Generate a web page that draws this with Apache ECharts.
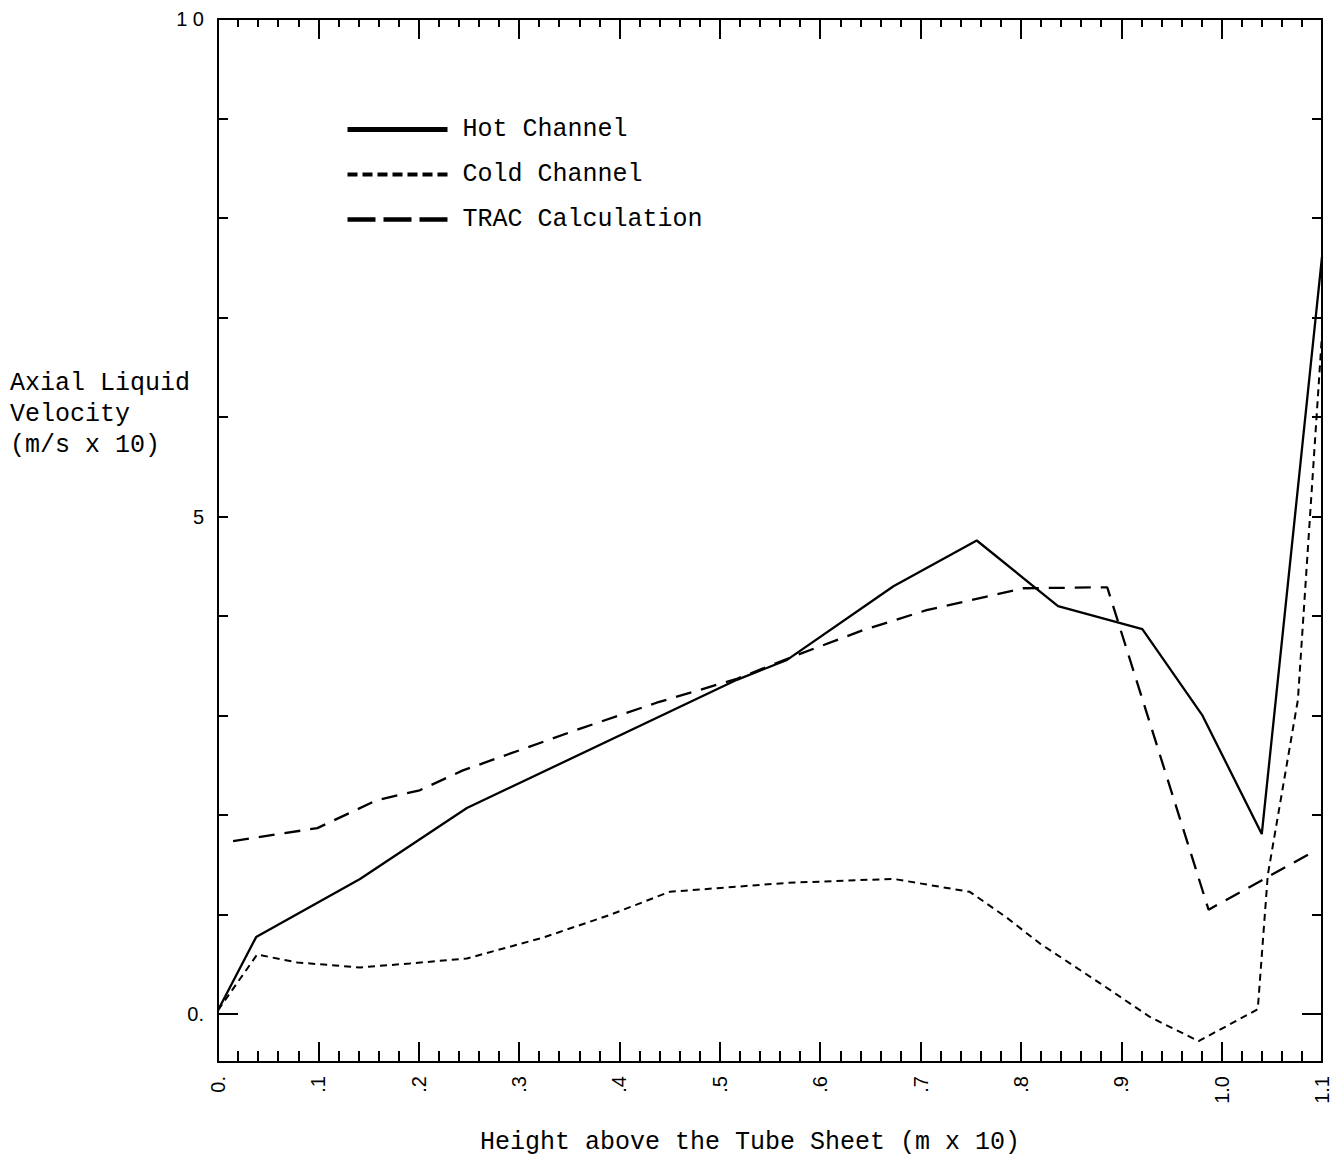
<!DOCTYPE html>
<html>
<head>
<meta charset="utf-8">
<title>Axial Liquid Velocity</title>
<script src="https://cdn.jsdelivr.net/npm/echarts@6.0.0/dist/echarts.min.js"></script>
<style>
  html, body { margin: 0; padding: 0; background: #fff; }
  #chart { width: 1339px; height: 1165px; }
</style>
</head>
<body>
<div id="chart"></div>
<script>
// ---- data (x: height above tube sheet, m x 10; y: axial liquid velocity, m/s x 10) ----
const hotX  = [0, 0.038, 0.1415, 0.248, 0.517, 0.567, 0.673, 0.756, 0.837, 0.921, 0.981, 1.040, 1.1];
const hotY  = [0.04, 0.775, 1.358, 2.072, 3.36, 3.56, 4.30, 4.76, 4.10, 3.87, 3.00, 1.81, 7.61];

const coldX = [0, 0.039, 0.079, 0.1415, 0.191, 0.248, 0.324, 0.391, 0.450, 0.567, 0.673, 0.749, 0.786, 0.819, 0.879, 0.929, 0.977, 1.036, 1.046, 1.076, 1.1];
const coldY = [0.04, 0.60, 0.52, 0.47, 0.51, 0.56, 0.77, 1.00, 1.23, 1.32, 1.36, 1.23, 0.97, 0.71, 0.31, -0.03, -0.27, 0.05, 1.40, 3.16, 6.83];

const tracX = [0.015, 0.099, 0.158, 0.201, 0.244, 0.361, 0.437, 0.517, 0.577, 0.643, 0.706, 0.802, 0.886, 0.987, 1.091];
const tracY = [1.74, 1.87, 2.15, 2.25, 2.45, 2.87, 3.13, 3.37, 3.61, 3.86, 4.06, 4.28, 4.29, 1.05, 1.63];

const seriesNames = ['Hot Channel', 'Cold Channel', 'TRAC Calculation'];
const xTickLabels = ['0.', '.1', '.2', '.3', '.4', '.5', '.6', '.7', '.8', '.9', '1.0', '1.1'];
const yTickValues = [1, 2, 3, 4, 5, 6, 7, 8, 9, 10];
const yLongTickValues = [0];
const yLabelValues = [0, 5, 10];
const yTickLabels = ['0.', '5', '1 0'];
const yTitle = 'Axial Liquid\nVelocity\n(m/s x 10)';
const xTitle = 'Height above the Tube Sheet (m x 10)';

function pairs(xs, ys) { return xs.map((x, i) => [x, ys[i]]); }

const MONO = '"Liberation Mono", "DejaVu Sans Mono", monospace';
const SANS = '"Liberation Sans", Arial, sans-serif';
const INK = '#000';

const chart = echarts.init(document.getElementById('chart'), null, { renderer: 'svg' });

const xBase = {
  type: 'value', min: 0, max: 1.1, interval: 0.1,
  splitLine: { show: false },
  minorSplitLine: { show: false }
};
const yBase = {
  type: 'value', min: -0.48, max: 10,
  splitLine: { show: false }
};
const boxLine = { show: true, onZero: false, lineStyle: { color: INK, width: 2 } };
const noLine = { show: false, onZero: false };
const hiddenSymbol = { opacity: 0, color: 'rgba(0,0,0,0)', borderWidth: 0 };

function yTickAxis(position, values, length) {
  return Object.assign({}, yBase, {
    position: position,
    axisLine: noLine,
    axisTick: { show: true, inside: true, length: length, customValues: values, lineStyle: { color: INK, width: 2 } },
    axisLabel: { show: false }
  });
}

const option = {
  animation: false,
  backgroundColor: '#fff',
  grid: { left: 218, right: 17, top: 19, bottom: 103, containLabel: false },
  legend: {
    orient: 'vertical',
    left: 345, top: 117, padding: 0,
    itemWidth: 100, itemHeight: 20, itemGap: 20,
    textStyle: { color: INK, fontFamily: MONO, fontSize: 25, padding: [0, 0, 0, 10] },
    data: [
      { name: seriesNames[0], itemStyle: hiddenSymbol, lineStyle: { width: 5, type: 'solid' } },
      { name: seriesNames[1], itemStyle: hiddenSymbol, lineStyle: { width: 4, type: [10, 5] } },
      { name: seriesNames[2], itemStyle: hiddenSymbol, lineStyle: { width: 4.5, type: [28, 8] } }
    ]
  },
  xAxis: [
    Object.assign({}, xBase, {
      position: 'bottom',
      axisLine: boxLine,
      axisTick: { show: true, inside: true, length: 20, lineStyle: { color: INK, width: 2 } },
      minorTick: { show: true, splitNumber: 5, length: 11, lineStyle: { color: INK, width: 2 } },
      axisLabel: {
        show: true, rotate: 90, margin: 14, color: INK, fontFamily: SANS, fontSize: 20,
        formatter: v => xTickLabels[Math.round(v * 10)] ?? ''
      }
    }),
    Object.assign({}, xBase, {
      position: 'top',
      axisLine: boxLine,
      axisTick: { show: true, inside: true, length: 20, lineStyle: { color: INK, width: 2 } },
      minorTick: { show: true, splitNumber: 5, length: 8, lineStyle: { color: INK, width: 2 } },
      axisLabel: { show: false }
    })
  ],
  yAxis: [
    Object.assign({}, yBase, {
      position: 'left',
      axisLine: boxLine,
      axisTick: { show: false },
      axisLabel: {
        show: true, margin: 14, color: INK, fontFamily: SANS, fontSize: 20,
        customValues: yLabelValues,
        formatter: v => yTickLabels[yLabelValues.indexOf(Math.round(v))] ?? ''
      }
    }),
    Object.assign({}, yBase, {
      position: 'right',
      axisLine: boxLine,
      axisTick: { show: false },
      axisLabel: { show: false }
    }),
    yTickAxis('left', yTickValues, 10),
    yTickAxis('left', yLongTickValues, 20),
    yTickAxis('right', yTickValues, 10),
    yTickAxis('right', yLongTickValues, 20)
  ],
  series: [
    {
      name: seriesNames[0], type: 'line', xAxisIndex: 0, yAxisIndex: 0,
      symbol: 'none', data: pairs(hotX, hotY), color: INK,
      lineStyle: { color: INK, width: 2.3, type: 'solid' }
    },
    {
      name: seriesNames[1], type: 'line', xAxisIndex: 0, yAxisIndex: 0,
      symbol: 'none', data: pairs(coldX, coldY), color: INK,
      lineStyle: { color: INK, width: 2, type: [7, 5] }
    },
    {
      name: seriesNames[2], type: 'line', xAxisIndex: 0, yAxisIndex: 0,
      symbol: 'none', data: pairs(tracX, tracY), color: INK,
      lineStyle: { color: INK, width: 2.3, type: [16, 10] }
    }
  ],
  graphic: [
    {
      type: 'text', left: 10, top: 368,
      style: { text: yTitle, fill: INK, font: '25px ' + MONO, lineHeight: 31 }
    },
    {
      type: 'text', x: 750, y: 1142,
      style: { text: xTitle, fill: INK, font: '25px ' + MONO, align: 'center', verticalAlign: 'middle' }
    }
  ]
};

chart.setOption(option);
</script>
</body>
</html>
